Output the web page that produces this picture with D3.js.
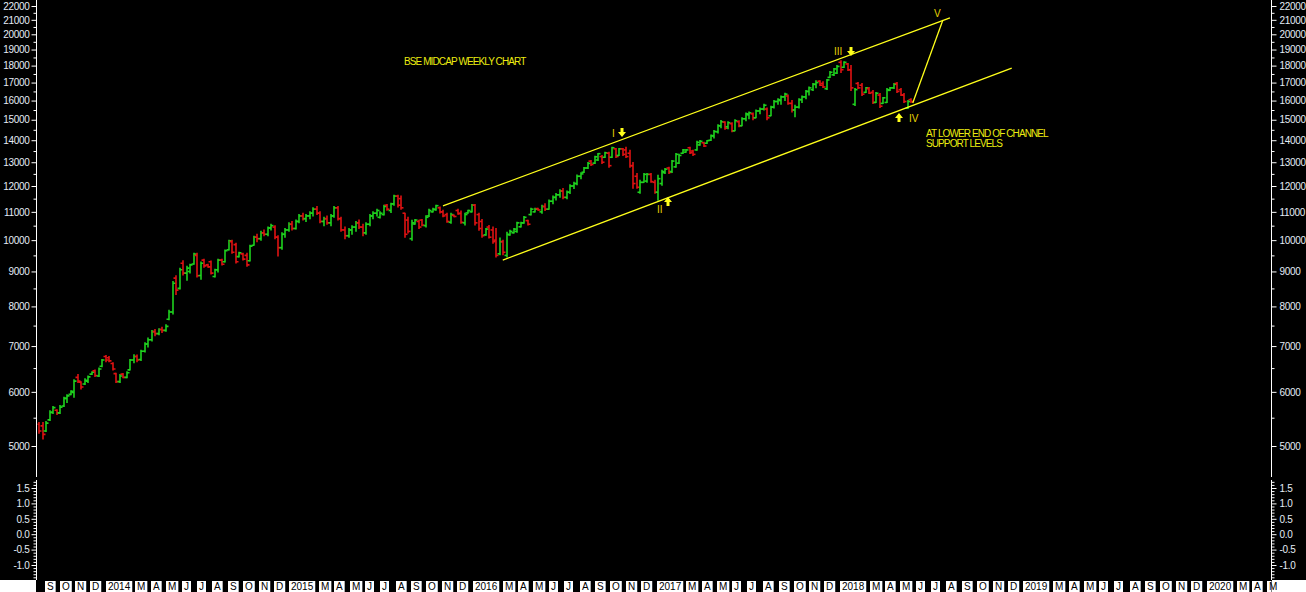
<!DOCTYPE html>
<html>
<head>
<meta charset="utf-8">
<title>BSE Midcap weekly chart</title>
<script src="https://cdnjs.cloudflare.com/ajax/libs/d3/7.8.5/d3.min.js"></script>
<style>
  body { margin: 0; background: #fff; }
  svg { display: block; }
  text { font-family: Arial, "Liberation Sans", sans-serif; }
  .tick text { fill: #e4ecf6; font-size: 10px; letter-spacing: -0.3px; }
  .tick line { stroke: #fff; }
</style>
</head>
<body>
<script>
// weekly OHLC, first bar = week ending 23 Aug 2013
var firstWeek = new Date(2013, 7, 23);

var opens = [5380,5350,5260,5460,5600,5640,5590,5720,5870,5950,
  5990,6300,6200,6160,6220,6370,6440,6330,6540,6760,
  6730,6600,6380,6210,6370,6300,6460,6680,6760,6690,
  6880,7050,7150,7350,7300,7400,7380,7660,7850,8800,
  8500,9250,8950,9000,9230,9500,8880,9350,9200,9300,
  8850,9050,9350,9300,9680,9950,9850,9460,9550,9500,
  9330,9830,10100,10050,10250,10200,10420,10450,10100,9750,
  10200,10350,10550,10400,10650,10850,10750,10850,10950,11100,
  10950,10650,10750,10600,10850,11150,10750,10350,10150,10350,
  10450,10600,10450,10250,10550,10850,10950,10800,10900,11250,
  11050,11300,11600,11500,10950,10700,10050,10560,10650,10700,
  10500,10850,11000,11080,11150,11000,10900,10620,10870,11050,
  10950,10600,10960,11000,11250,10900,10650,10180,10450,10350,
  10000,9550,9950,9500,10180,10250,10300,10460,10600,10680,
  10900,11000,11120,11000,11200,11100,11400,11550,11650,11800,
  11550,11750,12000,12100,12400,12570,12750,13050,12960,13100,
  13250,13220,13400,13220,13600,13300,13600,13550,13400,12850,
  12400,11750,12150,12200,12480,12150,11750,12100,12550,12750,
  12600,12800,12960,13400,13450,13650,13500,13550,13780,13880,
  13860,14000,14200,14400,14700,14880,14650,14800,14450,14900,
  14700,15050,15250,15300,15100,15450,15550,15550,15200,15650,
  15950,16000,16200,16250,15850,15500,15650,16050,16200,16500,
  16600,16900,17080,16950,16650,17300,17450,17550,18200,17900,
  18100,17750,15800,16950,16850,16450,16650,16450,15900,16300,
  15850,15900,16560,16700,16950,16600,16300,15600,16050];

var highs = [5410,5410,5430,5630,5710,5650,5730,5890,5940,6020,
  6250,6360,6210,6270,6330,6420,6460,6500,6690,6780,
  6760,6620,6390,6360,6380,6420,6690,6800,6790,6900,
  7080,7190,7380,7400,7420,7460,7520,7900,8700,8870,
  9100,9330,9160,9220,9570,9570,9290,9380,9220,9320,
  9070,9380,9380,9670,10000,10000,9900,9600,9570,9570,
  9830,10130,10200,10300,10350,10450,10550,10500,10150,10250,
  10400,10600,10650,10700,10900,10950,10900,11000,11150,11200,
  11000,10800,10850,10900,11200,11200,10800,10450,10400,10500,
  10650,10700,10550,10600,10900,11000,11100,11000,11250,11280,
  11320,11630,11630,11600,10950,10800,10690,10720,10690,10720,
  10860,11100,11130,11250,11180,11060,10950,10950,10880,11100,
  11030,10950,11060,11280,11280,10950,10720,10400,10510,10450,
  10400,10070,10000,10270,10340,10400,10620,10620,10830,10690,
  11130,11130,11130,11250,11300,11450,11600,11700,11850,11900,
  11800,12050,12150,12450,12550,12770,12990,13080,13260,13390,
  13300,13440,13440,13670,13620,13620,13620,13670,13530,12990,
  12520,12230,12520,12520,12520,12230,12440,12650,12730,12780,
  13080,13390,13350,13570,13570,13670,13530,13950,13990,13900,
  13990,14250,14470,14750,14960,14900,14900,14850,15000,14950,
  15100,15350,15400,15350,15500,15600,15800,15600,15700,16000,
  16100,16250,16400,16300,16000,15750,16100,16250,16550,16750,
  16950,17100,17110,17050,17170,17640,17820,18000,18300,18240,
  18120,18000,16660,17000,16940,16720,16720,16550,16440,16390,
  16160,16660,16720,16940,17000,16660,16390,16000,16100];

var lows = [5220,5120,5250,5450,5580,5560,5580,5710,5790,5940,
  5890,6190,6060,6150,6190,6360,6320,6320,6530,6640,
  6640,6460,6190,6190,6290,6290,6460,6620,6640,6670,
  6860,6980,7120,7250,7270,7330,7360,7650,7800,8330,
  8480,8890,8740,8950,9220,8830,8770,9130,9130,8920,
  8830,8980,9200,9290,9670,9570,9260,9450,9350,9160,
  9320,9830,9950,10000,10150,10150,10350,10050,9480,9700,
  10100,10300,10350,10380,10600,10700,10650,10750,10850,10900,
  10600,10500,10550,10500,10800,10700,10300,10050,10100,10200,
  10300,10400,10150,10200,10500,10750,10850,10770,10880,11060,
  10980,11250,11180,11100,10100,10240,10000,10550,10400,10500,
  10450,10830,10990,11060,10960,10820,10620,10590,10820,10910,
  10590,10520,10950,10990,10520,10340,10100,10170,10070,9900,
  9450,9520,9520,9450,10170,10240,10270,10450,10590,10520,
  10880,10990,11060,10950,11050,11100,11300,11450,11550,11500,
  11500,11700,11900,12050,12300,12560,12730,12860,12950,13080,
  12950,13210,12780,13210,13210,13300,13300,13210,12780,11910,
  11910,11710,12150,12150,12150,11710,11440,12030,12520,12520,
  12560,12780,12950,13390,13440,13390,13300,13530,13760,13710,
  13850,13990,14100,14350,14600,14530,14550,14400,14450,14650,
  14700,14950,15050,15000,15100,15300,15500,15000,15200,15600,
  15800,15800,16000,15800,15400,15150,15600,15900,16100,16300,
  16550,16700,16830,16720,16610,17290,17410,17530,17580,17880,
  17700,16550,15740,16660,16270,16440,16390,15840,15890,15630,
  15840,15890,16550,16660,16440,16270,15890,15580,15890];

var closes = [5260,5200,5400,5600,5690,5590,5700,5870,5920,6010,
  6220,6220,6100,6240,6310,6410,6340,6480,6680,6680,
  6660,6480,6210,6330,6300,6400,6680,6760,6680,6880,
  7050,7150,7350,7300,7400,7380,7480,7850,8650,8450,
  9050,8950,9100,9200,9540,8870,9250,9170,9140,8950,
  9050,9350,9220,9650,9980,9600,9300,9580,9380,9200,
  9800,10100,10050,10250,10200,10420,10500,10100,9750,10200,
  10350,10550,10400,10650,10850,10750,10850,10950,11100,10950,
  10650,10750,10600,10850,11150,10750,10350,10150,10350,10450,
  10600,10450,10250,10550,10850,10950,11050,10950,11200,11100,
  11300,11600,11250,11150,10200,10300,10600,10700,10450,10520,
  10800,11050,11100,11230,11000,10850,10650,10900,10830,10930,
  10620,10900,11050,11250,10600,10400,10150,10380,10100,9950,
  9500,9950,9600,10200,10300,10380,10600,10600,10800,10550,
  11100,11100,11070,11200,11100,11400,11550,11650,11800,11550,
  11750,12000,12100,12400,12500,12750,12950,12900,13240,13380,
  13000,13420,12850,13650,13250,13600,13350,13250,12850,12100,
  11950,12150,12480,12480,12180,11750,12300,12600,12700,12560,
  13050,13350,13300,13550,13550,13420,13350,13900,13950,13730,
  13980,14220,14420,14700,14900,14580,14850,14450,14950,14700,
  15050,15300,15350,15100,15450,15550,15750,15100,15650,15950,
  16050,16200,16350,15850,15500,15650,16050,16200,16500,16700,
  16900,17000,16850,16750,17150,17600,17800,17950,17750,18200,
  17750,16700,16600,16700,16350,16700,16400,15900,16400,15700,
  16150,16600,16700,16900,16500,16300,15950,15950,15950];

// axis ticks
var priceTicks = [5000,6000,7000,8000,9000,10000,11000,12000,13000,14000,15000,16000,17000,18000,19000,20000,21000,22000];
var priceMinorTicks = [5500,6500,7500,8500,9500,10500,11500,12500,13500,14500,15500,16500,17500,18500,19500,20500,21500];
var oscTicks = [-1.0,-0.5,0.0,0.5,1.0,1.5];
var monthLetters = ['J','F','M','A','M','J','J','A','S','O','N','D'];

// drawn study lines (date, index level)
var channelUpper = [{date:'2015-11-05', value:11220}, {date:'2018-08-10', value:21130}];
var channelLower = [{date:'2016-03-03', value:9350}, {date:'2018-12-11', value:17850}];
var waveFive = [{date:'2018-05-28', value:15870}, {date:'2018-07-27', value:20990}];
var waveMarks = [
  {label:'I', date:'2016-10-26', value:14150, dir:'down'},
  {label:'II', date:'2017-01-26', value:11570, dir:'up'},
  {label:'III', date:'2018-01-25', value:18590, dir:'down'},
  {label:'IV', date:'2018-04-30', value:15340, dir:'up'}
];

var UP = '#1ed21e', DOWN = '#e01212', YEL = '#ffff1a';
var W = 1306, H = 592;
var axL = 36.5, axR = 1271.5;
var upperTop = 0, upperBottom = 478, lowerTop = 480, lowerBottom = 580;

var parse = d3.timeParse('%Y-%m-%d');

var weeks = opens.map(function(o, i) {
  return {date: d3.timeDay.offset(firstWeek, 7 * i), o: o, h: highs[i], l: lows[i], c: closes[i]};
});

var x = d3.scaleTime()
  .domain([new Date(2013, 7, 18), new Date(2020, 4, 11)])
  .range([axL, axR]);
var y = d3.scaleLog().domain([5000, 22000]).range([446, 6]);
var y2 = d3.scaleLinear().domain([-1, 1.5]).range([565, 488]);

var svg = d3.select('body').append('svg')
  .attr('width', W).attr('height', H);

// background: black plot, white bottom strip edges
svg.append('rect').attr('width', W).attr('height', H).attr('fill', '#fff');
svg.append('rect').attr('width', W).attr('height', lowerBottom).attr('fill', '#000');
svg.append('rect').attr('x', axL - 0.5).attr('y', lowerBottom)
  .attr('width', axR - axL + 1).attr('height', H - lowerBottom).attr('fill', '#000');

// clip for upper panel
svg.append('clipPath').attr('id', 'upclip').append('rect')
  .attr('x', axL + 1).attr('y', upperTop).attr('width', axR - axL - 1).attr('height', upperBottom - upperTop);

var plot = svg.append('g').attr('clip-path', 'url(#upclip)');

// OHLC bars
var bar = plot.selectAll('g.bar')
  .data(weeks)
  .enter().append('g')
  .attr('class', 'bar')
  .attr('stroke', d => d.c >= d.o ? UP : DOWN)
  .attr('stroke-width', 1.6);

bar.append('line')
  .attr('x1', d => Math.round(x(d.date)))
  .attr('x2', d => Math.round(x(d.date)))
  .attr('y1', d => y(d.h) - 0.5)
  .attr('y2', d => y(d.l) + 0.5);
bar.append('line')
  .attr('x1', d => Math.round(x(d.date)) - 2.5)
  .attr('x2', d => Math.round(x(d.date)))
  .attr('y1', d => y(d.o)).attr('y2', d => y(d.o));
bar.append('line')
  .attr('x1', d => Math.round(x(d.date)))
  .attr('x2', d => Math.round(x(d.date)) + 2.5)
  .attr('y1', d => y(d.c)).attr('y2', d => y(d.c));

// channel + projection
var line = d3.line().x(d => x(parse(d.date))).y(d => y(d.value));
[channelUpper, channelLower, waveFive].forEach(function(pts) {
  plot.append('path').datum(pts)
    .attr('d', line)
    .attr('fill', 'none')
    .attr('stroke', YEL)
    .attr('stroke-width', 1.3);
});

// wave arrows and labels
var labelOffset = {I: [-10, 0], II: [-11, 16], III: [-17, -1], IV: [10, 9]};
var arrowDown = 'M0,0 L-4,-5 L-1.5,-5 L-1.5,-9 L1.5,-9 L1.5,-5 L4,-5 Z';
var arrowUp = 'M0,0 L-4,5 L-1.5,5 L-1.5,9 L1.5,9 L1.5,5 L4,5 Z';
var marks = plot.selectAll('g.wave').data(waveMarks).enter().append('g')
  .attr('class', 'wave')
  .attr('transform', d => 'translate(' + Math.round(x(parse(d.date))) + ',' + Math.round(y(d.value)) + ')');
marks.append('path')
  .attr('d', d => d.dir === 'down' ? arrowDown : arrowUp)
  .attr('fill', YEL);
marks.append('text')
  .attr('x', d => labelOffset[d.label][0])
  .attr('y', d => labelOffset[d.label][1])
  .attr('fill', '#e8d400')
  .attr('font-size', 10)
  .text(d => d.label);

var vEnd = waveFive[1];
plot.append('text')
  .attr('x', x(parse(vEnd.date)) - 9)
  .attr('y', y(vEnd.value) - 3)
  .attr('fill', '#e8d400')
  .attr('font-size', 10)
  .text('V');

// free annotations
function note(txt, px, py) {
  plot.append('text').attr('x', px).attr('y', py)
    .attr('fill', '#ecec10')
    .attr('font-size', 10)
    .attr('letter-spacing', '-0.9px')
    .text(txt);
}
note('BSE MIDCAP WEEKLY CHART', 404, 65);
note('AT  LOWER END OF CHANNEL', 926, 137);
note('SUPPORT LEVELS', 926, 147);

// y axes
function styleAxis(g) {
  g.select('.domain').remove();
}
svg.append('g').attr('transform', 'translate(' + axL + ',0)')
  .call(d3.axisLeft(y).tickValues(priceTicks).tickFormat(d3.format('d')).tickSize(5).tickPadding(2))
  .call(styleAxis);
svg.append('g').attr('transform', 'translate(' + axL + ',0)')
  .call(d3.axisLeft(y).tickValues(priceMinorTicks).tickFormat('').tickSize(3))
  .call(styleAxis);
svg.append('g').attr('transform', 'translate(' + axR + ',0)')
  .call(d3.axisRight(y).tickValues(priceTicks).tickFormat(d3.format('d')).tickSize(5).tickPadding(3))
  .call(styleAxis);
svg.append('g').attr('transform', 'translate(' + axR + ',0)')
  .call(d3.axisRight(y).tickValues(priceMinorTicks).tickFormat('').tickSize(3))
  .call(styleAxis);

var oscMinor = d3.range(-14, 18).map(v => v / 10).filter(v => Math.abs(v * 2 - Math.round(v * 2)) > 1e-6);
[[axL, d3.axisLeft, 2], [axR, d3.axisRight, 3]].forEach(function(s) {
  svg.append('g').attr('transform', 'translate(' + s[0] + ',0)')
    .call(s[1](y2).tickValues(oscTicks).tickFormat(d => d.toFixed(1)).tickSize(5).tickPadding(s[2]))
    .call(styleAxis);
  svg.append('g').attr('transform', 'translate(' + s[0] + ',0)')
    .call(s[1](y2).tickValues(oscMinor).tickFormat('').tickSize(3))
    .call(styleAxis);
});

// axis lines
[axL, axR].forEach(function(ax) {
  svg.append('line').attr('x1', ax).attr('x2', ax).attr('y1', upperTop).attr('y2', upperBottom - 1).attr('stroke', '#fff');
  svg.append('line').attr('x1', ax).attr('x2', ax).attr('y1', lowerTop).attr('y2', lowerBottom).attr('stroke', '#fff');
});

// month strip
var months = d3.timeMonth.range(new Date(2013, 8, 1), new Date(2020, 5, 1));
var strip = svg.append('g');
var lastEnd = -1;
months.forEach(function(m) {
  var x0 = Math.round(x(m)) + 1;
  var label = m.getMonth() === 0 ? String(m.getFullYear()) : monthLetters[m.getMonth()];
  if (x0 < lastEnd + 2) return;
  if (x0 > axR - 2) return;
  var t = strip.append('text')
    .attr('x', x0 + 2).attr('y', 590)
    .attr('font-size', 10)
    .attr('fill', '#000')
    .text(label);
  var w = t.node().getComputedTextLength();
  var bw = Math.min(w + 4, axR - x0);
  strip.insert('rect', 'text')
    .attr('x', x0).attr('y', lowerBottom + 1)
    .attr('width', bw).attr('height', H - lowerBottom - 1)
    .attr('fill', '#fff');
  lastEnd = x0 + bw;
});
</script>
</body>
</html>
